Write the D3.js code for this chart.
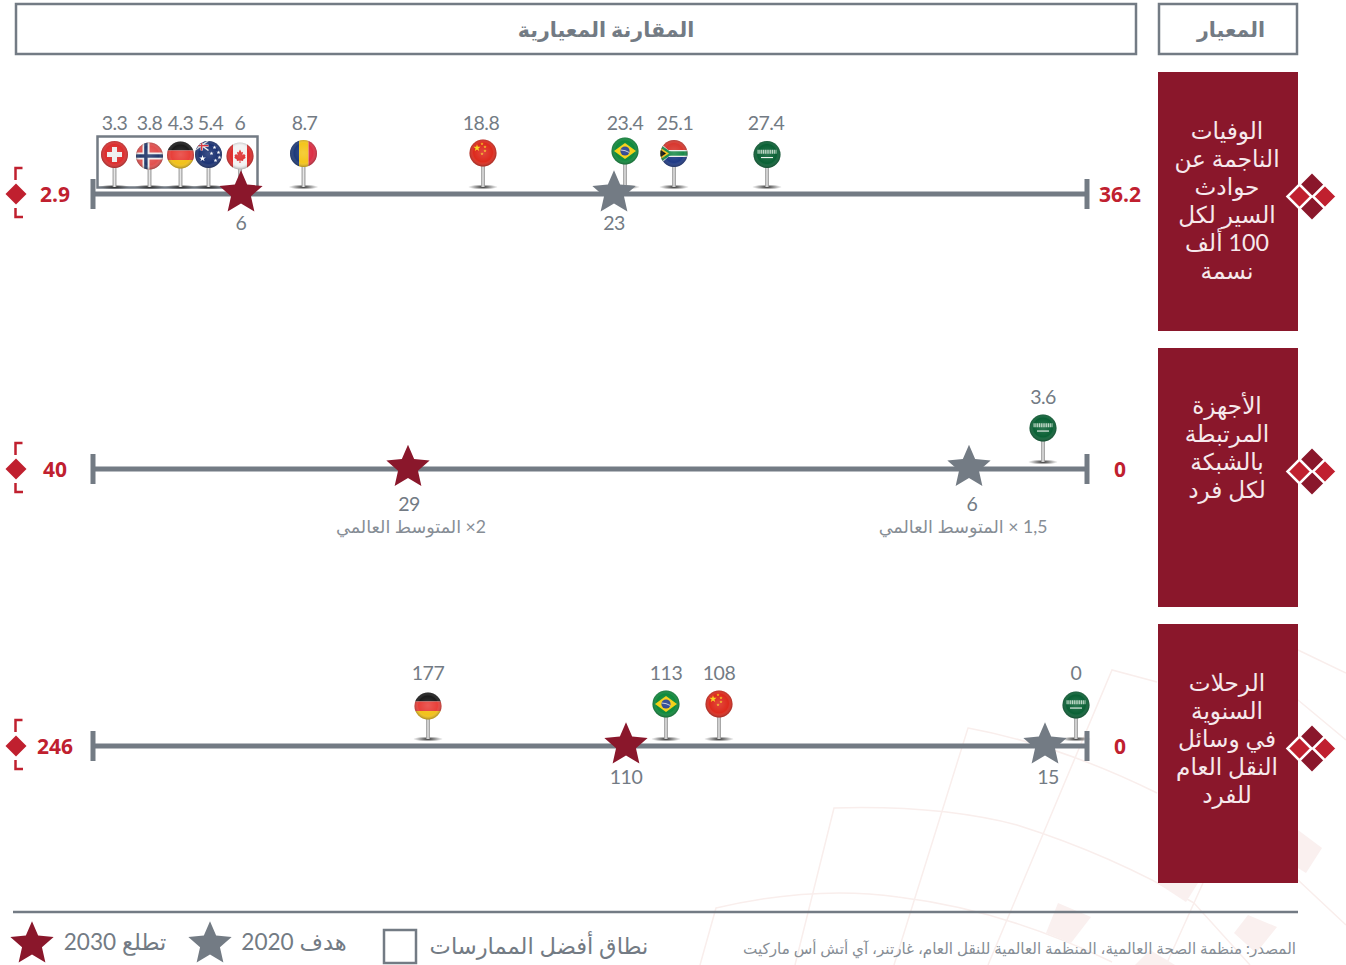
<!doctype html>
<html>
<head>
<meta charset="utf-8">
<style>
	html, body { margin: 0; padding: 0; background: #fff; }
	svg { display: block; }
	text { font-family: "Lato", "DejaVu Sans", sans-serif; }
	.val { fill: #737b84; font-size: 19.5px; text-anchor: middle; letter-spacing: -0.5px; }
	.note { fill: #868d95; font-size: 17.6px; text-anchor: middle; direction: rtl; }
	.end { fill: #c0202f; font-family: "Open Sans", sans-serif; font-size: 21px; font-weight: 700; text-anchor: middle; }
	.side { fill: #f6e9ec; font-size: 23.2px; text-anchor: middle; direction: rtl; }
	.head { fill: #737b84; font-size: 20.6px; font-weight: 700; text-anchor: middle; direction: rtl; }
	.leg { fill: #737b84; font-size: 22.6px; text-anchor: middle; direction: rtl; }
	.src { fill: #868d95; font-size: 15.2px; text-anchor: start; direction: rtl; }
	.bg { fill: none; stroke: #f9eeec; stroke-width: 1.5; }
</style>
<script src="https://d3js.org/d3.v7.min.js"></script>
</head>
<body>
<div id="chart"></div>
<script>
	// data
	var headers = ["المقارنة المعيارية", "المعيار"];

	var deathsTitle = ["الوفيات", "الناجمة عن", "حوادث", "السير لكل", "100 ألف", "نسمة"];
	var deathsRange = [2.9, 36.2];
	var deathsCountries = ["che", "nor", "deu", "aus", "can", "rou", "chn", "bra", "zaf", "sau"];
	var deathsValues = [3.3, 3.8, 4.3, 5.4, 6, 8.7, 18.8, 23.4, 25.1, 27.4];
	var deathsTarget2030 = 6;
	var deathsTarget2020 = 23;

	var devicesTitle = ["الأجهزة", "المرتبطة", "بالشبكة", "لكل فرد"];
	var devicesRange = [40, 0];
	var devicesCountries = ["sau"];
	var devicesValues = [3.6];
	var devicesTarget2030 = 29;
	var devicesTarget2020 = 6;
	var devicesNotes = ["2× المتوسط العالمي", "1,5 × المتوسط العالمي"];

	var tripsTitle = ["الرحلات", "السنوية", "في وسائل", "النقل العام", "للفرد"];
	var tripsRange = [246, 0];
	var tripsCountries = ["deu", "bra", "chn", "sau"];
	var tripsValues = [177, 113, 108, 0];
	var tripsTarget2030 = 110;
	var tripsTarget2020 = 15;

	var legendLabels = ["تطلع 2030", "هدف 2020", "نطاق أفضل الممارسات"];
	var source = "المصدر: منظمة الصحة العالمية، المنظمة العالمية للنقل العام، غارتنر، آي أتش أس ماركيت";

	// the original axes are not proportional, so each scale is piecewise
	var x0 = 93, x1 = 1087;
	var rows = [
		{
			title: deathsTitle, range: deathsRange, countries: deathsCountries, values: deathsValues,
			t2030: deathsTarget2030, t2020: deathsTarget2020,
			pinScale: d3.scaleLinear().domain([2.9, 3.3, 3.8, 4.3, 5.4, 6, 8.7, 18.8, 23.4, 25.1, 27.4, 36.2])
				.range([x0, 114.5, 149.5, 180.5, 208.5, 240, 303.5, 483, 625, 674, 767, x1]),
			starScale: d3.scaleLinear().domain([2.9, 6, 23, 36.2]).range([x0, 241, 614, x1]),
			y: 194, box: 72, titleY: 132, headY: [154.5, 156, 155, 154.5, 156, 153.5, 153, 151, 153.5, 154.5],
			labelDx: [0, 0, 0, 2, 0, 1, -2, 0, 1, -1], labelY: 130, starDy: -1,
			labelStarDx: [0, 0], starLabelY: 230
		},
		{
			title: devicesTitle, range: devicesRange, countries: devicesCountries, values: devicesValues,
			t2030: devicesTarget2030, t2020: devicesTarget2020, notes: devicesNotes,
			pinScale: d3.scaleLinear().domain([40, 3.6, 0]).range([x0, 1043, x1]),
			starScale: d3.scaleLinear().domain([40, 29, 6, 0]).range([x0, 408, 969, x1]),
			y: 469, box: 348, titleY: 407, headY: [428],
			labelDx: [0], labelY: 404, starDy: -1.5,
			labelStarDx: [1, 3], starLabelY: 511
		},
		{
			title: tripsTitle, range: tripsRange, countries: tripsCountries, values: tripsValues,
			t2030: tripsTarget2030, t2020: tripsTarget2020,
			pinScale: d3.scaleLinear().domain([246, 177, 113, 108, 0]).range([x0, 428, 666, 719, 1076]),
			starScale: d3.scaleLinear().domain([246, 110, 15, 0]).range([x0, 626, 1045, x1]),
			y: 746, box: 624, titleY: 684, headY: [706, 704, 704, 705],
			labelDx: [0, 0, 0, 0], labelY: 680, starDy: -1,
			labelStarDx: [0, 3], starLabelY: 784
		}
	];

	var grey = "#737b84", wine = "#8a172b", red = "#c0202f";
	var R = 13.5;

	var svg = d3.select("#chart").append("svg")
		.attr("width", 1346)
		.attr("height", 965);

	var defs = svg.append("defs");

	defs.append("clipPath").attr("id", "head")
		.append("circle").attr("r", R);

	var shade = defs.append("radialGradient").attr("id", "shade")
		.attr("cx", "50%").attr("cy", "48%").attr("r", "54%");
	shade.append("stop").attr("offset", "0%").attr("stop-color", "#fff").attr("stop-opacity", 0.14);
	shade.append("stop").attr("offset", "65%").attr("stop-color", "#fff").attr("stop-opacity", 0);
	shade.append("stop").attr("offset", "100%").attr("stop-color", "#000").attr("stop-opacity", 0.38);

	var stem = defs.append("linearGradient").attr("id", "stem");
	stem.append("stop").attr("offset", "0%").attr("stop-color", "#8f8f8f");
	stem.append("stop").attr("offset", "50%").attr("stop-color", "#e6e6e6");
	stem.append("stop").attr("offset", "100%").attr("stop-color", "#8a8a8a");

	var shadow = defs.append("radialGradient").attr("id", "shadow");
	shadow.append("stop").attr("offset", "0%").attr("stop-color", "#222");
	shadow.append("stop").attr("offset", "100%").attr("stop-color", "#444").attr("stop-opacity", 0);

	// faint decoration behind the lower right corner
	var bg = svg.append("g");
	[
		"M700,965 L716,908 Q815,885 898,897 Q1005,910 1112,962",
		"M795,965 L834,808 Q940,805 1017,825 Q1112,855 1194,903 L1250,965",
		"M894,965 L968,728 Q1060,745 1157,793 M1298,880 L1346,925",
		"M988,965 L1112,670 L1157,682 M1298,650 L1346,673",
		"M1166,965 L1203,883 M1298,700 L1346,740"
	].forEach(function(d) {
		bg.append("path").attr("class", "bg").attr("d", d);
	});
	[
		"M1058,903 L1091,917 L1071,943 L1046,933 Z",
		"M1248,915 L1277,927 L1256,953 L1234,933 Z",
		"M1298,830 L1322,848 L1306,873 L1298,868 Z",
		"M1157,883 L1198,883 L1186,902 Z",
		"M1135,965 L1150,950 L1175,965 Z"
	].forEach(function(d) {
		bg.append("path").attr("d", d).attr("fill", "#faf0ef");
	});

	// header boxes
	svg.append("rect").attr("x", 16).attr("y", 4).attr("width", 1120).attr("height", 50)
		.attr("fill", "#fff").attr("stroke", grey).attr("stroke-width", 2.5);
	svg.append("rect").attr("x", 1159).attr("y", 4).attr("width", 138).attr("height", 50)
		.attr("fill", "#fff").attr("stroke", grey).attr("stroke-width", 2.5);
	svg.append("text").attr("class", "head").attr("x", 606).attr("y", 37).text(headers[0]);
	svg.append("text").attr("class", "head").attr("x", 1231).attr("y", 37).text(headers[1]);

	// best practice box on the first row
	svg.append("rect").attr("x", 97.5).attr("y", 136.5).attr("width", 160).attr("height", 51)
		.attr("fill", "none").attr("stroke", grey).attr("stroke-width", 2.5);

	// d3.symbolStar is too thin for this picture, same idea with a wider waist
	var fatStar = {
		draw: function(context, size) {
			var r = Math.sqrt(size);
			for (var i = 0; i < 10; i++) {
				var a = i * Math.PI / 5, k = i % 2 ? 0.46 * r : r;
				var px = k * Math.sin(a), py = -k * Math.cos(a);
				if (i) context.lineTo(px, py); else context.moveTo(px, py);
			}
			context.closePath();
		}
	};
	var star = d3.symbol().type(fatStar).size(518);

	var diamond = function(g, cx, cy, r, fill, outline) {
		g.append("path")
			.attr("d", `M${cx},${cy - r} L${cx + r},${cy} L${cx},${cy + r} L${cx - r},${cy} Z`)
			.attr("fill", fill)
			.attr("stroke", outline || "none")
			.attr("stroke-width", outline ? 2.5 : 0);
	};

	// flags, drawn around 0,0 inside the pin head
	var rect = function(g, x, y, w, h, fill) {
		g.append("rect").attr("x", x).attr("y", y).attr("width", w).attr("height", h).attr("fill", fill);
	};
	var poly = function(g, pts, fill) {
		g.append("polygon").attr("points", pts).attr("fill", fill);
	};
	var starAt = function(g, x, y, size, fill) {
		g.append("path").attr("d", d3.symbol().type(d3.symbolStar).size(size)())
			.attr("transform", `translate(${x},${y})`).attr("fill", fill);
	};
	var flags = {
		che: function(g) {
			rect(g, -14, -14, 28, 28, "#dc2f2f");
			rect(g, -2.5, -7.5, 5, 15, "#eeeeee");
			rect(g, -7.5, -2.5, 15, 5, "#eeeeee");
		},
		nor: function(g) {
			rect(g, -14, -14, 28, 28, "#e2504f");
			rect(g, -7, -14, 7, 28, "#eee");
			rect(g, -14, -3.5, 28, 7, "#eee");
			rect(g, -5.3, -14, 3.4, 28, "#22386b");
			rect(g, -14, -1.7, 28, 3.4, "#22386b");
		},
		deu: function(g) {
			rect(g, -14, -14, 28, 9.5, "#1c1c1c");
			rect(g, -14, -4.5, 28, 9.5, "#e8403a");
			rect(g, -14, 5, 28, 9, "#f2c21a");
		},
		aus: function(g) {
			rect(g, -14, -14, 28, 28, "#1d3474");
			rect(g, -14, -14, 14, 10, "#28407f");
			g.append("path").attr("d", "M-14,-14 L0,-4 M0,-14 L-14,-4").attr("stroke", "#eee").attr("stroke-width", 1.5);
			rect(g, -8, -14, 2.4, 10, "#eee");
			rect(g, -14, -10, 14, 2.4, "#eee");
			rect(g, -7.5, -14, 1.3, 10, "#d8303a");
			rect(g, -14, -9.5, 14, 1.3, "#d8303a");
			starAt(g, -6, 4, 14, "#fff");
			[[6, -7], [10, -2], [3, -1], [7, 6], [11, 3]].forEach(function(p) {
				starAt(g, p[0], p[1], 5, "#fff");
			});
		},
		can: function(g) {
			rect(g, -14, -14, 28, 28, "#f3f3f3");
			rect(g, -14, -14, 7, 28, "#dd2c2c");
			rect(g, 7, -14, 7, 28, "#dd2c2c");
			// maple leaf
			poly(g, "0,-6.5 1.5,-3.5 3,-4.3 2.4,-0.8 4,-2 5.5,-0.5 5,1 5.8,1.8 3,3.8 3.2,5 0.4,4.6 0.5,7 -0.5,7 -0.4,4.6 -3.2,5 -3,3.8 -5.8,1.8 -5,1 -5.5,-0.5 -4,-2 -2.4,-0.8 -3,-4.3 -1.5,-3.5", "#dd2c2c");
		},
		rou: function(g) {
			rect(g, -14, -14, 9.5, 28, "#1d3a7a");
			rect(g, -4.5, -14, 9.5, 28, "#f4c51c");
			rect(g, 5, -14, 9, 28, "#dd2f45");
		},
		chn: function(g) {
			rect(g, -14, -14, 28, 28, "#dd2a1d");
			starAt(g, -6, -5, 16, "#f6d81e");
			[[-1, -9], [2, -6], [2, -2], [-1, 1]].forEach(function(p) {
				starAt(g, p[0], p[1], 3, "#f6d81e");
			});
		},
		bra: function(g) {
			rect(g, -14, -14, 28, 28, "#0f8a3c");
			poly(g, "-11,0 0,-8 11,0 0,8", "#f5cf12");
			g.append("circle").attr("r", 4.6).attr("fill", "#233d8c");
			g.append("path").attr("d", "M-4.3,-1 Q0,-1 4.3,1.5").attr("fill", "none").attr("stroke", "#eee").attr("stroke-width", 0.8);
		},
		zaf: function(g) {
			rect(g, -14, -14, 28, 14, "#d8382f");
			rect(g, -14, 0, 28, 14, "#1f3a86");
			rect(g, -14, -3.5, 28, 7, "#eee");
			poly(g, "-14,-11 -2,0 -14,11", "#eee");
			rect(g, -4, -2.2, 18, 4.4, "#1a8a4a");
			poly(g, "-14,-9 -1,0 -14,9", "#1a8a4a");
			poly(g, "-14,-6 -5,0 -14,6", "#f3c11c");
			poly(g, "-14,-4 -8,0 -14,4", "#111");
		},
		sau: function(g) {
			rect(g, -14, -14, 28, 28, "#0a6135");
			// script band and sword, too small to read in the original too
			g.append("line").attr("x1", -9.5).attr("x2", 9.5).attr("y1", -2.8).attr("y2", -2.8)
				.attr("stroke", "#bcd6c5").attr("stroke-width", 4).attr("stroke-dasharray", "1.2 0.6");
			rect(g, -6, 2.5, 12, 1.1, "#eef5f0");
		}
	};

	var drawPin = function(g, country, x, headY, baseY) {
		var pin = g.append("g").attr("class", "pin");
		pin.append("ellipse").attr("cx", x).attr("cy", baseY).attr("rx", 15).attr("ry", 2.6)
			.attr("fill", "url(#shadow)");
		pin.append("rect").attr("x", x - 1.9).attr("y", headY).attr("width", 3.8).attr("height", baseY - headY)
			.attr("fill", "url(#stem)");
		var head = pin.append("g").attr("transform", `translate(${x},${headY})`);
		flags[country](head.append("g").attr("clip-path", "url(#head)"));
		head.append("circle").attr("r", R).attr("fill", "url(#shade)");
	};

	rows.forEach(function(row) {
		var g = svg.append("g");
		var base = row.y - 7;

		// red title panel
		g.append("rect").attr("x", 1158).attr("y", row.box).attr("width", 140).attr("height", 259).attr("fill", wine);
		g.selectAll("text.side").data(row.title).enter().append("text")
			.attr("class", "side")
			.attr("x", 1227)
			.attr("y", (d, i) => row.titleY + i * 28 + 7)
			.text(d => d);

		var cy = row.y + 2.5;
		diamond(g, 1312, cy - 11.5, 11.5, wine);
		diamond(g, 1312, cy + 11.5, 11.5, wine);
		diamond(g, 1299.5, cy, 12, red, "#fff");
		diamond(g, 1325, cy, 12, red, "#fff");

		// min and max
		g.append("path")
			.attr("d", `M22.5,${row.y - 26} H15.5 V${row.y - 14} M15.5,${row.y + 14} V${row.y + 23} H23`)
			.attr("fill", "none").attr("stroke", red).attr("stroke-width", 2.5);
		diamond(g, 16, row.y, 10.5, red);
		g.append("text").attr("class", "end").attr("x", 55).attr("y", row.y + 8).text(row.range[0]);
		g.append("text").attr("class", "end").attr("x", 1120).attr("y", row.y + 8).text(row.range[1]);

		// pins
		row.values.forEach(function(v, i) {
			drawPin(g, row.countries[i], row.pinScale(v), row.headY[i], base);
		});
		g.selectAll("text.val").data(row.values).enter().append("text")
			.attr("class", "val")
			.attr("x", (d, i) => row.pinScale(d) + row.labelDx[i])
			.attr("y", row.labelY)
			.text(d => d);

		// axis
		g.append("line").attr("x1", row.starScale(row.range[0])).attr("x2", row.starScale(row.range[1]))
			.attr("y1", row.y).attr("y2", row.y)
			.attr("stroke", grey).attr("stroke-width", 5);
		row.range.forEach(function(v) {
			var x = row.starScale(v);
			g.append("line").attr("x1", x).attr("x2", x).attr("y1", row.y - 15).attr("y2", row.y + 15)
				.attr("stroke", grey).attr("stroke-width", 5);
		});

		// targets
		[[row.t2030, wine], [row.t2020, grey]].forEach(function(t, i) {
			var x = row.starScale(t[0]);
			g.append("path").attr("d", star())
				.attr("transform", `translate(${x},${row.y + row.starDy})`)
				.attr("fill", t[1]);
			g.append("text").attr("class", "val")
				.attr("x", x + row.labelStarDx[i])
				.attr("y", row.starLabelY)
				.text(t[0]);
			if (row.notes) {
				g.append("text").attr("class", "note")
					.attr("x", x + (i ? -6 : 3))
					.attr("y", row.starLabelY + 22)
					.text(row.notes[i]);
			}
		});
	});

	// footer
	svg.append("line").attr("x1", 13).attr("x2", 1298).attr("y1", 912).attr("y2", 912)
		.attr("stroke", grey).attr("stroke-width", 2.5);
	svg.append("path").attr("d", star()).attr("transform", "translate(32,944)").attr("fill", wine);
	svg.append("path").attr("d", star()).attr("transform", "translate(210,944)").attr("fill", grey);
	svg.append("rect").attr("x", 384).attr("y", 930).attr("width", 32).attr("height", 33)
		.attr("fill", "none").attr("stroke", grey).attr("stroke-width", 2.5);
	svg.append("text").attr("class", "leg").attr("x", 115).attr("y", 950).text(legendLabels[0]);
	svg.append("text").attr("class", "leg").attr("x", 294).attr("y", 950).text(legendLabels[1]);
	svg.append("text").attr("class", "leg").attr("x", 539).attr("y", 954).text(legendLabels[2]);
	svg.append("text").attr("class", "src").attr("x", 1296).attr("y", 954).text(source);
</script>
</body>
</html>
